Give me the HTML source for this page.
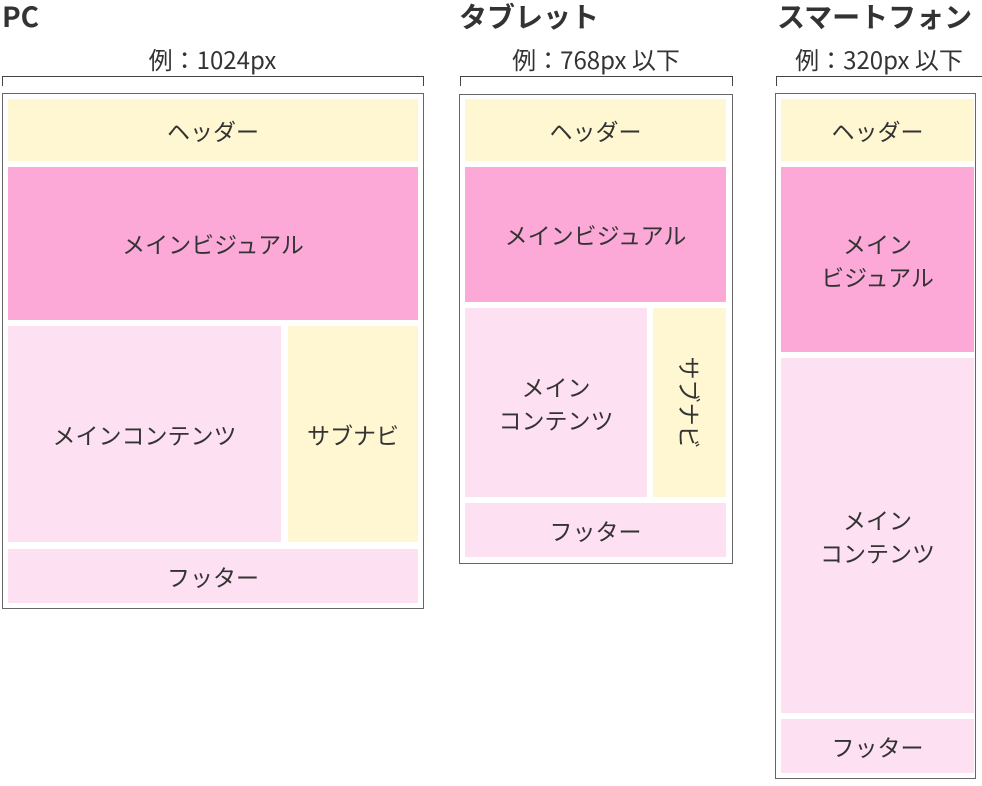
<!DOCTYPE html>
<html><head><meta charset="utf-8"><style>
body{margin:0;width:982px;height:786px;background:#fff;position:relative;overflow:hidden;font-family:"Noto Sans CJK JP","Liberation Sans",sans-serif;color:#333}
.a{position:absolute;box-sizing:border-box}
.t{font-weight:bold;font-size:28px;color:#333;line-height:1}
.s{font-size:24px;line-height:1;text-align:center}
.br{border:1.5px solid #444;border-bottom:none;height:10px}
.box{border:1.5px solid #666}
.b{display:flex;align-items:center;justify-content:center;text-align:center;font-size:23px;line-height:33px;color:#333}
.y{background:#fff7d1}.p{background:#fca9d8}.l{background:#fde0f1}
</style></head><body>
<div class="a t" style="left:2px;top:2px">PC</div>
<div class="a t" style="left:459px;top:2px">タブレット</div>
<div class="a t" style="left:777px;top:2px">スマートフォン</div>
<div class="a s" style="left:2px;width:421px;top:47px">例：1024px</div>
<div class="a s" style="left:460px;width:272px;top:47px">例：768px 以下</div>
<div class="a s" style="left:776px;width:206px;top:47px">例：320px 以下</div>
<div class="a br" style="left:2px;width:422px;top:76px"></div>
<div class="a br" style="left:460px;width:273px;top:76px"></div>
<div class="a br" style="left:776px;width:208px;top:76px"></div>

<div class="a box" style="left:2px;top:93px;width:422px;height:516px"></div>
<div class="a b y" style="left:8px;top:99px;width:410px;height:62px">ヘッダー</div>
<div class="a b p" style="left:8px;top:167px;width:410px;height:153px">メインビジュアル</div>
<div class="a b l" style="left:8px;top:326px;width:273px;height:216px">メインコンテンツ</div>
<div class="a b y" style="left:288px;top:326px;width:130px;height:216px">サブナビ</div>
<div class="a b l" style="left:8px;top:549px;width:410px;height:54px">フッター</div>

<div class="a box" style="left:459px;top:94px;width:274px;height:470px"></div>
<div class="a b y" style="left:465px;top:99px;width:261px;height:62px">ヘッダー</div>
<div class="a b p" style="left:465px;top:167px;width:261px;height:135px">メインビジュアル</div>
<div class="a b l" style="left:465px;top:308px;width:182px;height:189px">メイン<br>コンテンツ</div>
<div class="a b y" style="left:653px;top:308px;width:73px;height:189px"><span style="display:inline-block;transform:rotate(90deg);white-space:nowrap">サブナビ</span></div>
<div class="a b l" style="left:465px;top:503px;width:261px;height:54px">フッター</div>

<div class="a box" style="left:775px;top:93px;width:201px;height:686px"></div>
<div class="a b y" style="left:781px;top:99px;width:193px;height:62px">ヘッダー</div>
<div class="a b p" style="left:781px;top:167px;width:193px;height:185px">メイン<br>ビジュアル</div>
<div class="a b l" style="left:781px;top:358px;width:193px;height:355px">メイン<br>コンテンツ</div>
<div class="a b l" style="left:781px;top:719px;width:193px;height:54px">フッター</div>
</body></html>
